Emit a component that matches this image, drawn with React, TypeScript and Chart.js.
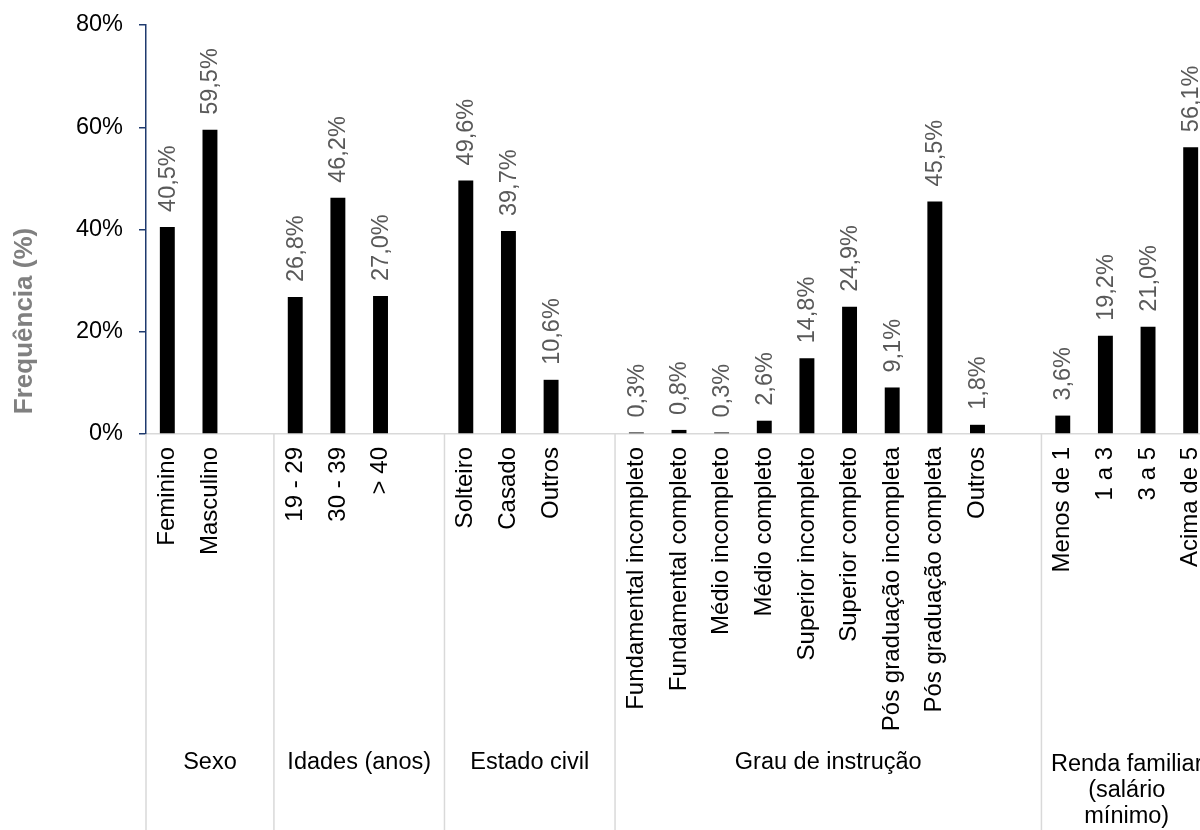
import { useEffect, useRef } from 'react';
import { Chart, registerables } from 'chart.js';

Chart.register(...registerables);

// Survey profile: percentage of respondents in each category
const sexoLabels = ['Feminino', 'Masculino'];
const sexoValues = [40.5, 59.5];

const idadeLabels = ['19 - 29', '30 - 39', '> 40'];
const idadeValues = [26.8, 46.2, 27.0];

const civilLabels = ['Solteiro', 'Casado', 'Outros'];
const civilValues = [49.6, 39.7, 10.6];

const instrucaoLabels = [
  'Fundamental incompleto',
  'Fundamental completo',
  'Médio incompleto',
  'Médio completo',
  'Superior incompleto',
  'Superior completo',
  'Pós graduação incompleta',
  'Pós graduação completa',
  'Outros',
];
const instrucaoValues = [0.3, 0.8, 0.3, 2.6, 14.8, 24.9, 9.1, 45.5, 1.8];

const rendaLabels = ['Menos de 1', '1 a 3', '3 a 5', 'Acima de 5'];
const rendaValues = [3.6, 19.2, 21.0, 56.1];

const groupNames = [
  ['Sexo'],
  ['Idades (anos)'],
  ['Estado civil'],
  ['Grau de instrução'],
  ['Renda familiar', '(salário', 'mínimo)'],
];

const yTicks = [0, 20, 40, 60, 80];

const FONT = '"Liberation Sans", Arial, sans-serif';
const FS = 23.5;
const TICK_FS = 24;
const CANVAS_W = 1212;
const CANVAS_H = 830;

// Flatten groups into one category axis, with an empty slot after each group but the last
const groups = [
  { labels: sexoLabels, values: sexoValues },
  { labels: idadeLabels, values: idadeValues },
  { labels: civilLabels, values: civilValues },
  { labels: instrucaoLabels, values: instrucaoValues },
  { labels: rendaLabels, values: rendaValues },
];

const categories: string[] = [];
const values: (number | null)[] = [];
const groupSpans: { start: number; count: number }[] = [];
groups.forEach((g, gi) => {
  const start = categories.length;
  g.labels.forEach((l, i) => {
    categories.push(l);
    values.push(g.values[i]);
  });
  if (gi < groups.length - 1) {
    categories.push('');
    values.push(null);
  }
  groupSpans.push({ start, count: categories.length - start });
});

const fmt = (v: number) => v.toFixed(1).replace('.', ',') + '%';

const valueLabelsPlugin = {
  id: 'valueLabels',
  afterDatasetsDraw(chart: any) {
    const ctx = chart.ctx;
    const meta = chart.getDatasetMeta(0);
    ctx.save();
    ctx.font = `${FS}px ${FONT}`;
    ctx.fillStyle = '#595959';
    ctx.textAlign = 'left';
    ctx.textBaseline = 'middle';
    meta.data.forEach((bar: any, i: number) => {
      const v = values[i];
      if (v == null) return;
      ctx.save();
      ctx.translate(bar.x + 1, bar.y - 15);
      ctx.rotate(-Math.PI / 2);
      ctx.fillText(fmt(v), 0, 0);
      ctx.restore();
    });
    ctx.restore();
  },
};

const groupAxisPlugin = {
  id: 'groupAxis',
  afterDraw(chart: any) {
    const ctx = chart.ctx;
    const x = chart.scales.x;
    const area = chart.chartArea;
    const slot = x.getPixelForValue(1) - x.getPixelForValue(0);
    ctx.save();
    // group separators
    ctx.strokeStyle = '#d9d9d9';
    ctx.lineWidth = 1.5;
    groupSpans.forEach((g) => {
      const bx = x.getPixelForValue(g.start) - slot / 2;
      ctx.beginPath();
      ctx.moveTo(bx, area.bottom);
      ctx.lineTo(bx, CANVAS_H);
      ctx.stroke();
    });
    // group names
    ctx.font = `${FS}px ${FONT}`;
    ctx.fillStyle = '#000000';
    ctx.textAlign = 'center';
    ctx.textBaseline = 'middle';
    groupSpans.forEach((g, gi) => {
      const left = x.getPixelForValue(g.start) - slot / 2;
      const cx = left + (g.count * slot) / 2;
      const lines = groupNames[gi];
      lines.forEach((line, li) => {
        ctx.fillText(line, cx, (lines.length > 1 ? 765 : 763) + li * 26);
      });
    });
    // y-axis title
    ctx.save();
    ctx.translate(25, 321);
    ctx.rotate(-Math.PI / 2);
    ctx.font = `bold 26px ${FONT}`;
    ctx.fillStyle = '#808080';
    ctx.fillText('Frequência (%)', 0, 0);
    ctx.restore();
    ctx.restore();
  },
};

export default function App() {
  const ref = useRef<HTMLCanvasElement | null>(null);

  useEffect(() => {
    if (!ref.current) return;
    const chart = new Chart(ref.current, {
      type: 'bar',
      data: {
        labels: categories,
        datasets: [
          {
            data: values,
            backgroundColor: '#000000',
            borderWidth: 0,
            barPercentage: 0.35,
            categoryPercentage: 1,
          },
        ],
      },
      options: {
        animation: false,
        responsive: false,
        devicePixelRatio: 1,
        layout: { padding: { top: 25, left: 0, right: 0, bottom: 0 } },
        plugins: {
          legend: { display: false },
          tooltip: { enabled: false },
        },
        scales: {
          x: {
            offset: true,
            grid: { display: false, drawTicks: false },
            border: { display: true, color: '#d9d9d9', width: 1.5 },
            ticks: {
              autoSkip: false,
              minRotation: 90,
              maxRotation: 90,
              padding: 13,
              color: '#000000',
              font: { family: FONT, size: TICK_FS },
            },
            afterFit: (s: any) => {
              s.height = CANVAS_H - 434;
              s.paddingLeft = 0;
              s.paddingRight = 0;
            },
          },
          y: {
            min: 0,
            max: 80,
            afterBuildTicks: (s: any) => {
              s.ticks = yTicks.map((v) => ({ value: v }));
            },
            grid: {
              drawOnChartArea: false,
              drawTicks: true,
              tickLength: 7,
              color: '#1f3a6e',
              lineWidth: 1.5,
            },
            border: { display: true, color: '#1f3a6e', width: 1.5 },
            ticks: {
              padding: 16,
              color: '#000000',
              font: { family: FONT, size: FS },
              callback: (v: any) => `${v}%`,
            },
            afterFit: (s: any) => {
              s.width = 146;
              s.paddingTop = 0;
              s.paddingBottom = 0;
            },
          },
        },
      },
      plugins: [valueLabelsPlugin, groupAxisPlugin],
    });
    return () => chart.destroy();
  }, []);

  return (
    <div
      style={{
        position: 'fixed',
        left: 0,
        top: 0,
        width: 1200,
        height: CANVAS_H,
        overflow: 'hidden',
        background: '#ffffff',
      }}
    >
      <canvas
        ref={ref}
        width={CANVAS_W}
        height={CANVAS_H}
        style={{ width: CANVAS_W, height: CANVAS_H, display: 'block' }}
      />
    </div>
  );
}
